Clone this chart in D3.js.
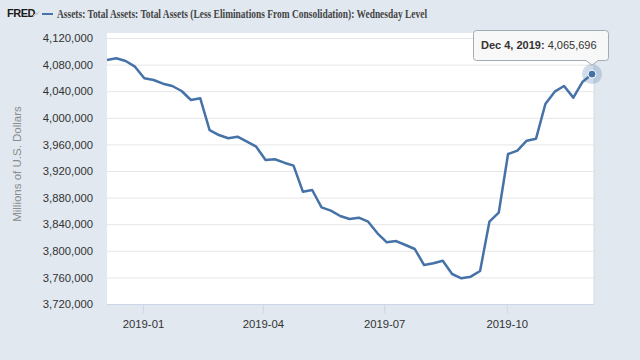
<!DOCTYPE html>
<html>
<head>
<meta charset="utf-8">
<script src="https://cdn.jsdelivr.net/npm/d3@7"></script>
<style>
  html, body { margin: 0; padding: 0; background: #e1e8f0; }
  svg { display: block; }
</style>
</head>
<body>
<svg id="chart" width="640" height="360"></svg>
<script>
const titleText = "Assets: Total Assets: Total Assets (Less Eliminations From Consolidation): Wednesday Level";
const yAxisTitle = "Millions of U.S. Dollars";

const dates = [
  "2018-12-05","2018-12-12","2018-12-19","2018-12-26",
  "2019-01-02","2019-01-09","2019-01-16","2019-01-23","2019-01-30",
  "2019-02-06","2019-02-13","2019-02-20","2019-02-27",
  "2019-03-06","2019-03-13","2019-03-20","2019-03-27",
  "2019-04-03","2019-04-10","2019-04-17","2019-04-24",
  "2019-05-01","2019-05-08","2019-05-15","2019-05-22","2019-05-29",
  "2019-06-05","2019-06-12","2019-06-19","2019-06-26",
  "2019-07-03","2019-07-10","2019-07-17","2019-07-24","2019-07-31",
  "2019-08-07","2019-08-14","2019-08-21","2019-08-28",
  "2019-09-04","2019-09-11","2019-09-18","2019-09-25",
  "2019-10-02","2019-10-09","2019-10-16","2019-10-23","2019-10-30",
  "2019-11-06","2019-11-13","2019-11-20","2019-11-27",
  "2019-12-04"
];

const values = [
  4087000, 4089500, 4085400, 4076900,
  4059400, 4056800, 4051300, 4047800, 4040300,
  4026800, 4029300, 3981600, 3974100,
  3969200, 3971600, 3964100, 3956600,
  3936500, 3937600, 3932500, 3928000,
  3888900, 3891400, 3865400, 3860300, 3852300,
  3847800, 3849800, 3843800, 3826300,
  3812800, 3814700, 3808700, 3802700, 3778600,
  3781200, 3785100, 3765100, 3758600,
  3761100, 3769600, 3843800, 3857300,
  3945600, 3950600, 3965600, 3968600, 4020700,
  4039300, 4047800, 4030300, 4054300,
  4065696
];

const yTicks = [3720000, 3760000, 3800000, 3840000, 3880000, 3920000, 3960000, 4000000, 4040000, 4080000, 4120000];
const xTickDates = ["2019-01-01", "2019-04-01", "2019-07-01", "2019-10-01"];

const tooltipDate = "Dec 4, 2019:";
const tooltipValue = "4,065,696";

const parse = d3.utcParse("%Y-%m-%d");
const data = dates.map((d, i) => ({ date: parse(d), value: values[i] }));

const svg = d3.select("#chart");
const lineColor = "#4572a7";

const plot = { left: 107, right: 594, top: 33, bottom: 304 };

const x = d3.scaleUtc()
  .domain([parse(dates[0]), parse(dates[dates.length - 1])])
  .range([107, 592]);

const y = d3.scaleLinear()
  .domain([3720000, 4120000])
  .range([304, 38]);

// plot background
svg.append("rect")
  .attr("x", plot.left).attr("y", plot.top)
  .attr("width", plot.right - plot.left).attr("height", plot.bottom - plot.top)
  .attr("fill", "#ffffff");
svg.append("line")
  .attr("x1", plot.right).attr("x2", plot.right)
  .attr("y1", plot.top).attr("y2", plot.bottom)
  .attr("stroke", "#d4d9e0").attr("stroke-width", 1);

// gridlines + y axis
const yAxis = d3.axisLeft(y)
  .tickValues(yTicks)
  .tickFormat(d3.format(","))
  .tickSize(-(plot.right - plot.left))
  .tickPadding(14);
const gy = svg.append("g")
  .attr("transform", `translate(${plot.left},0)`)
  .call(yAxis);
gy.select(".domain").remove();
gy.selectAll(".tick line").attr("stroke", "#e6e6e6").attr("stroke-width", 1);
gy.selectAll(".tick text")
  .attr("fill", "#333")
  .style("font-family", "'Liberation Sans', Arial, sans-serif")
  .style("font-size", "11.3px");

// x axis
const xAxis = d3.axisBottom(x)
  .tickValues(xTickDates.map(parse))
  .tickFormat(d3.utcFormat("%Y-%m"))
  .tickSize(9)
  .tickPadding(7);
const gx = svg.append("g")
  .attr("transform", `translate(0,${plot.bottom})`)
  .call(xAxis);
gx.select(".domain").attr("d", `M${plot.left},0.5H${plot.right}`).attr("stroke", "#ccd6eb");
gx.selectAll(".tick line").attr("stroke", "#ccd6eb");
gx.selectAll(".tick text")
  .attr("fill", "#333")
  .style("font-family", "'Liberation Sans', Arial, sans-serif")
  .style("font-size", "11.3px");

// y axis title
svg.append("text")
  .attr("transform", "translate(21,164) rotate(-90)")
  .attr("text-anchor", "middle")
  .attr("fill", "#8c8c8c")
  .style("font-family", "'Liberation Sans', Arial, sans-serif")
  .style("font-size", "11.5px")
  .text(yAxisTitle);

// line
const line = d3.line()
  .x(d => x(d.date))
  .y(d => y(d.value));
svg.append("path")
  .datum(data)
  .attr("fill", "none")
  .attr("stroke", lineColor)
  .attr("stroke-width", 2.5)
  .attr("stroke-linejoin", "round")
  .attr("d", line);

// header
svg.append("text")
  .attr("x", 7).attr("y", 17)
  .attr("fill", "#1a1a1a")
  .style("font-family", "'Liberation Sans', Arial, sans-serif")
  .style("font-size", "11px")
  .style("font-weight", "bold")
  .style("letter-spacing", "-0.5px")
  .text("FRED");
svg.append("path")
  .attr("d", "M33,16 L36,13 L37,14.5 L39,11.5")
  .attr("fill", "none").attr("stroke", "#b8c0c8").attr("stroke-width", 1);
svg.append("line")
  .attr("x1", 42).attr("x2", 53).attr("y1", 14).attr("y2", 14)
  .attr("stroke", lineColor).attr("stroke-width", 2);
svg.append("text")
  .attr("x", 57).attr("y", 18)
  .attr("fill", "#444")
  .attr("textLength", 370)
  .attr("lengthAdjust", "spacingAndGlyphs")
  .style("font-family", "'Liberation Serif', 'Times New Roman', serif")
  .style("font-size", "12px")
  .style("font-weight", "bold")
  .text(titleText);

// highlighted point
const last = data[data.length - 1];
const px = x(last.date), py = y(last.value);
svg.append("circle")
  .attr("cx", px).attr("cy", py).attr("r", 10)
  .attr("fill", lineColor).attr("fill-opacity", 0.25);
svg.append("circle")
  .attr("cx", px).attr("cy", py).attr("r", 4)
  .attr("fill", lineColor).attr("stroke", "#fff").attr("stroke-width", 1);

// tooltip
const tb = { x: 473.5, y: 30.5, w: 135, h: 30 };
const tipX = px, tipY = py - 9;
svg.append("path")
  .attr("d", `M${tb.x + 3},${tb.y} H${tb.x + tb.w - 3} Q${tb.x + tb.w},${tb.y} ${tb.x + tb.w},${tb.y + 3} V${tb.y + tb.h - 3} Q${tb.x + tb.w},${tb.y + tb.h} ${tb.x + tb.w - 3},${tb.y + tb.h} H${tipX + 6} L${tipX},${tipY} L${tipX - 6},${tb.y + tb.h} H${tb.x + 3} Q${tb.x},${tb.y + tb.h} ${tb.x},${tb.y + tb.h - 3} V${tb.y + 3} Q${tb.x},${tb.y} ${tb.x + 3},${tb.y} Z`)
  .attr("fill", "#f7f7f7").attr("fill-opacity", 0.92)
  .attr("stroke", "#a3acb5").attr("stroke-width", 1);
const tt = svg.append("text")
  .attr("x", 481).attr("y", 49)
  .attr("fill", "#333")
  .style("font-family", "'Liberation Sans', Arial, sans-serif")
  .style("font-size", "11px");
tt.append("tspan").style("font-weight", "bold").text(tooltipDate);
tt.append("tspan").text(" " + tooltipValue);
</script>
</body>
</html>
